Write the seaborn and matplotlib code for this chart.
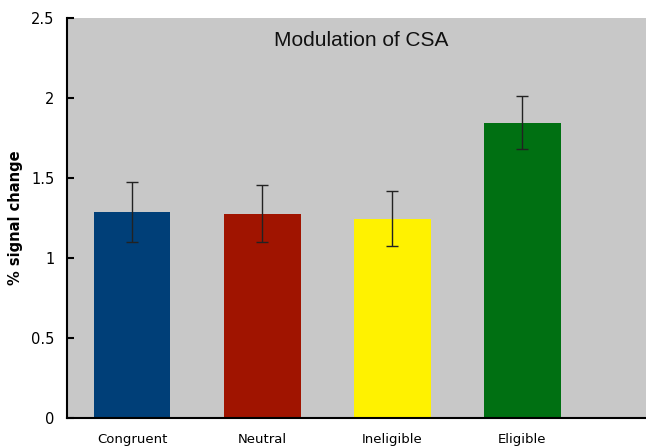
import matplotlib
matplotlib.use("Agg")
import matplotlib.pyplot as plt
import seaborn as sns
import numpy as np
import pandas as pd

categories = ["Congruent", "Neutral", "Ineligible", "Eligible"]
values = [1.29, 1.275, 1.245, 1.846]
err_low = [1.10, 1.10, 1.075, 1.68]
err_high = [1.473, 1.455, 1.42, 2.015]
colors = ["#003f78", "#a01400", "#fff200", "#007012"]
yticks = [0, 0.5, 1, 1.5, 2, 2.5]
ytick_labels = ["0", "0.5", "1", "1.5", "2", "2.5"]
title = "Modulation of CSA"
ylabel = "% signal change"

sns.set_style("white")
plt.rcParams["font.family"] = ["DejaVu Sans"]
plt.rcParams["text.color"] = "black"
plt.rcParams["axes.labelcolor"] = "black"
plt.rcParams["xtick.color"] = "black"
plt.rcParams["ytick.color"] = "black"

df = pd.DataFrame({"cond": categories, "val": values})

fig = plt.figure(figsize=(6.46, 4.48), dpi=100)
ax = fig.add_axes([67 / 646, 30 / 448, 1 - 67 / 646, 400 / 448])
ax.set_facecolor("#c8c8c8")

sns.barplot(data=df, x="cond", y="val", hue="cond", palette=colors,
            width=0.59, errorbar=None, legend=False, ax=ax,
            edgecolor="none", saturation=1)

x = np.arange(len(categories))
vals = np.array(values)
lower = vals - np.array(err_low)
upper = np.array(err_high) - vals
ax.errorbar(x, vals, yerr=[lower, upper], fmt="none", ecolor="#222222",
            elinewidth=1.0, capsize=4, capthick=1.0)

ax.set_xlim(-0.5, 3.95)
ax.set_ylim(0, 2.5)
ax.set_yticks(yticks)
ax.set_yticklabels(ytick_labels, fontsize=10.5)
ax.set_xticks(x)
ax.set_xticklabels(categories, fontsize=9.5)
ax.set_xticks([-0.5, 0.5, 1.5, 2.5], minor=True)
ax.tick_params(axis="x", which="major", length=0, pad=11)
ax.tick_params(axis="x", which="minor", direction="out", length=4, width=1.5, color="black")
ax.tick_params(axis="y", which="major", direction="in", length=5, width=1.5, color="black", pad=9, left=True)

ax.set_xlabel("")
ax.set_ylabel(ylabel, fontsize=10.5, fontweight="bold", labelpad=6)

for s in ["top", "right"]:
    ax.spines[s].set_visible(False)
for s in ["left", "bottom"]:
    ax.spines[s].set_visible(True)
    ax.spines[s].set_color("black")
    ax.spines[s].set_linewidth(1.5)

ax.text(1.76, 2.36, title, fontsize=15, family="Liberation Sans",
        ha="center", va="center", color="#111111")

fig.savefig("out.png", dpi=100)
